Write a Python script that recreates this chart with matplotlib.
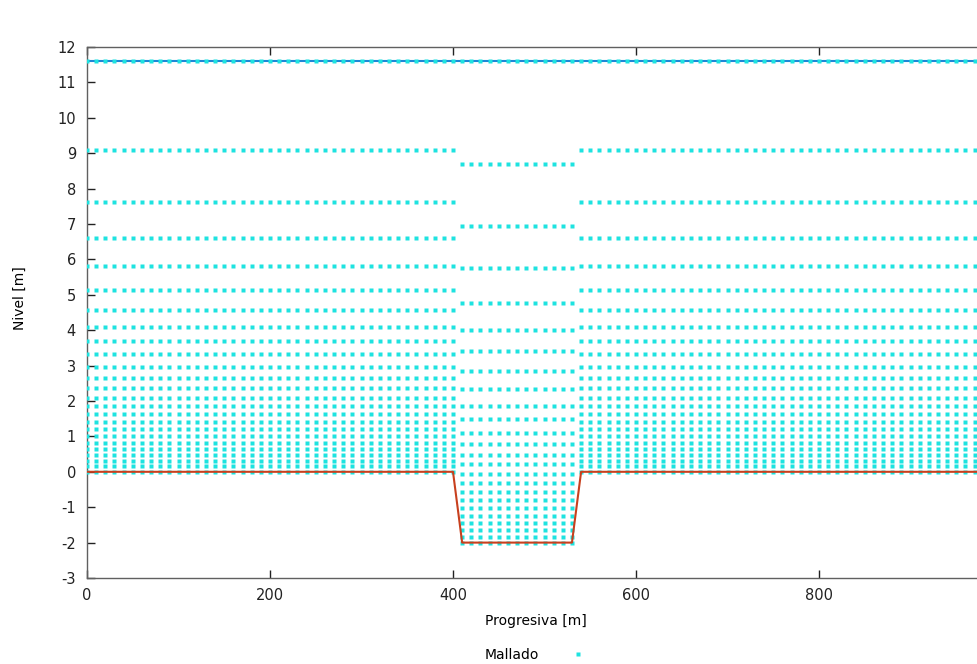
import matplotlib
matplotlib.use("Agg")
import matplotlib.pyplot as plt
import numpy as np
from matplotlib.lines import Line2D

plt.rcParams["axes.unicode_minus"] = False

# --- data ---
# mesh columns (progresiva, m)
cols_left = [0, 10, 20, 30, 40, 50, 60, 70, 80, 90, 100, 110, 120, 130, 140, 150,
             160, 170, 180, 190, 200, 210, 220, 230, 240, 250, 260, 270, 280, 290,
             300, 310, 320, 330, 340, 350, 360, 370, 380, 390, 400]
cols_channel = [410, 420, 430, 440, 450, 460, 470, 480, 490, 500, 510, 520, 530]
cols_right = [540, 550, 560, 570, 580, 590, 600, 610, 620, 630, 640, 650, 660, 670,
              680, 690, 700, 710, 720, 730, 740, 750, 760, 770, 780, 790, 800, 810,
              820, 830, 840, 850, 860, 870, 880, 890, 900, 910, 920, 930, 940, 950,
              960, 970, 980, 990, 1000]
# mesh levels (nivel, m)
levels_side = [11.6, 9.09, 7.63, 6.61, 5.80, 5.14, 4.58, 4.10, 3.69, 3.33, 2.97, 2.65,
               2.36, 2.09, 1.86, 1.63, 1.42, 1.22, 1.02, 0.82, 0.64, 0.47, 0.31, 0.15, 0.0]
levels_channel = [11.6, 8.69, 6.95, 5.75, 4.78, 4.01, 3.41, 2.85, 2.34, 1.87, 1.48, 1.11,
                  0.79, 0.48, 0.21, -0.05, -0.31, -0.56, -0.80, -1.03, -1.25, -1.45,
                  -1.64, -1.83, -2.0]
# bed profile
bed_x = [0, 400, 410, 530, 540, 1000]
bed_y = [0, 0, -2, -2, 0, 0]
# water surface
surf_x = [0, 1000]
surf_y = [11.6, 11.6]

xticks = [0, 200, 400, 600, 800]
yticks = [-3, -2, -1, 0, 1, 2, 3, 4, 5, 6, 7, 8, 9, 10, 11, 12]

# --- figure ---
W, H = 977, 664
fig = plt.figure(figsize=(W / 100, H / 100), dpi=100)
ax = fig.add_axes([87 / W, (H - 578) / H, 915 / W, 531 / H])

cyan = "#1ee3e0"
ax.plot(surf_x, surf_y, color="#1f88d6", lw=1.5, zorder=2)

pts_x, pts_y = [], []
for cols, levs in ((cols_left, levels_side), (cols_channel, levels_channel), (cols_right, levels_side)):
    gx, gy = np.meshgrid(cols, levs)
    pts_x.append(gx.ravel())
    pts_y.append(gy.ravel())
ax.plot(np.concatenate(pts_x), np.concatenate(pts_y), ls="none", marker="s", ms=2.3,
        mec="none", mfc=cyan, zorder=3)

ax.plot(bed_x, bed_y, color="#c8401e", lw=1.5, zorder=4)

ax.set_xlim(0, 1000)
ax.set_ylim(-3, 12)
ax.set_xticks(xticks)
ax.set_yticks(yticks)
ax.tick_params(direction="in", length=6, width=1, top=True, right=True,
               labelsize=10.5, colors="#222222")
ax.tick_params(axis="y", pad=8)
ax.tick_params(axis="x", pad=7)
for s in ax.spines.values():
    s.set_color("#606060")
    s.set_linewidth(1)

fig.text(536 / W, 1 - 621 / H, "Progresiva [m]", ha="center", va="center", fontsize=10)
fig.text(20 / W, 1 - 298 / H, "Nivel [m]", ha="center", va="center", rotation=90, fontsize=10)

handle = Line2D([], [], ls="none", marker="s", ms=2.3, mec="none", mfc=cyan)
fig.legend([handle], ["Mallado"], loc="center", bbox_to_anchor=(540 / W, 1 - 655 / H),
           markerfirst=False, frameon=False, fontsize=10, handlelength=2.5,
           handletextpad=1.5, borderpad=0)

fig.savefig("out.png", dpi=100)
